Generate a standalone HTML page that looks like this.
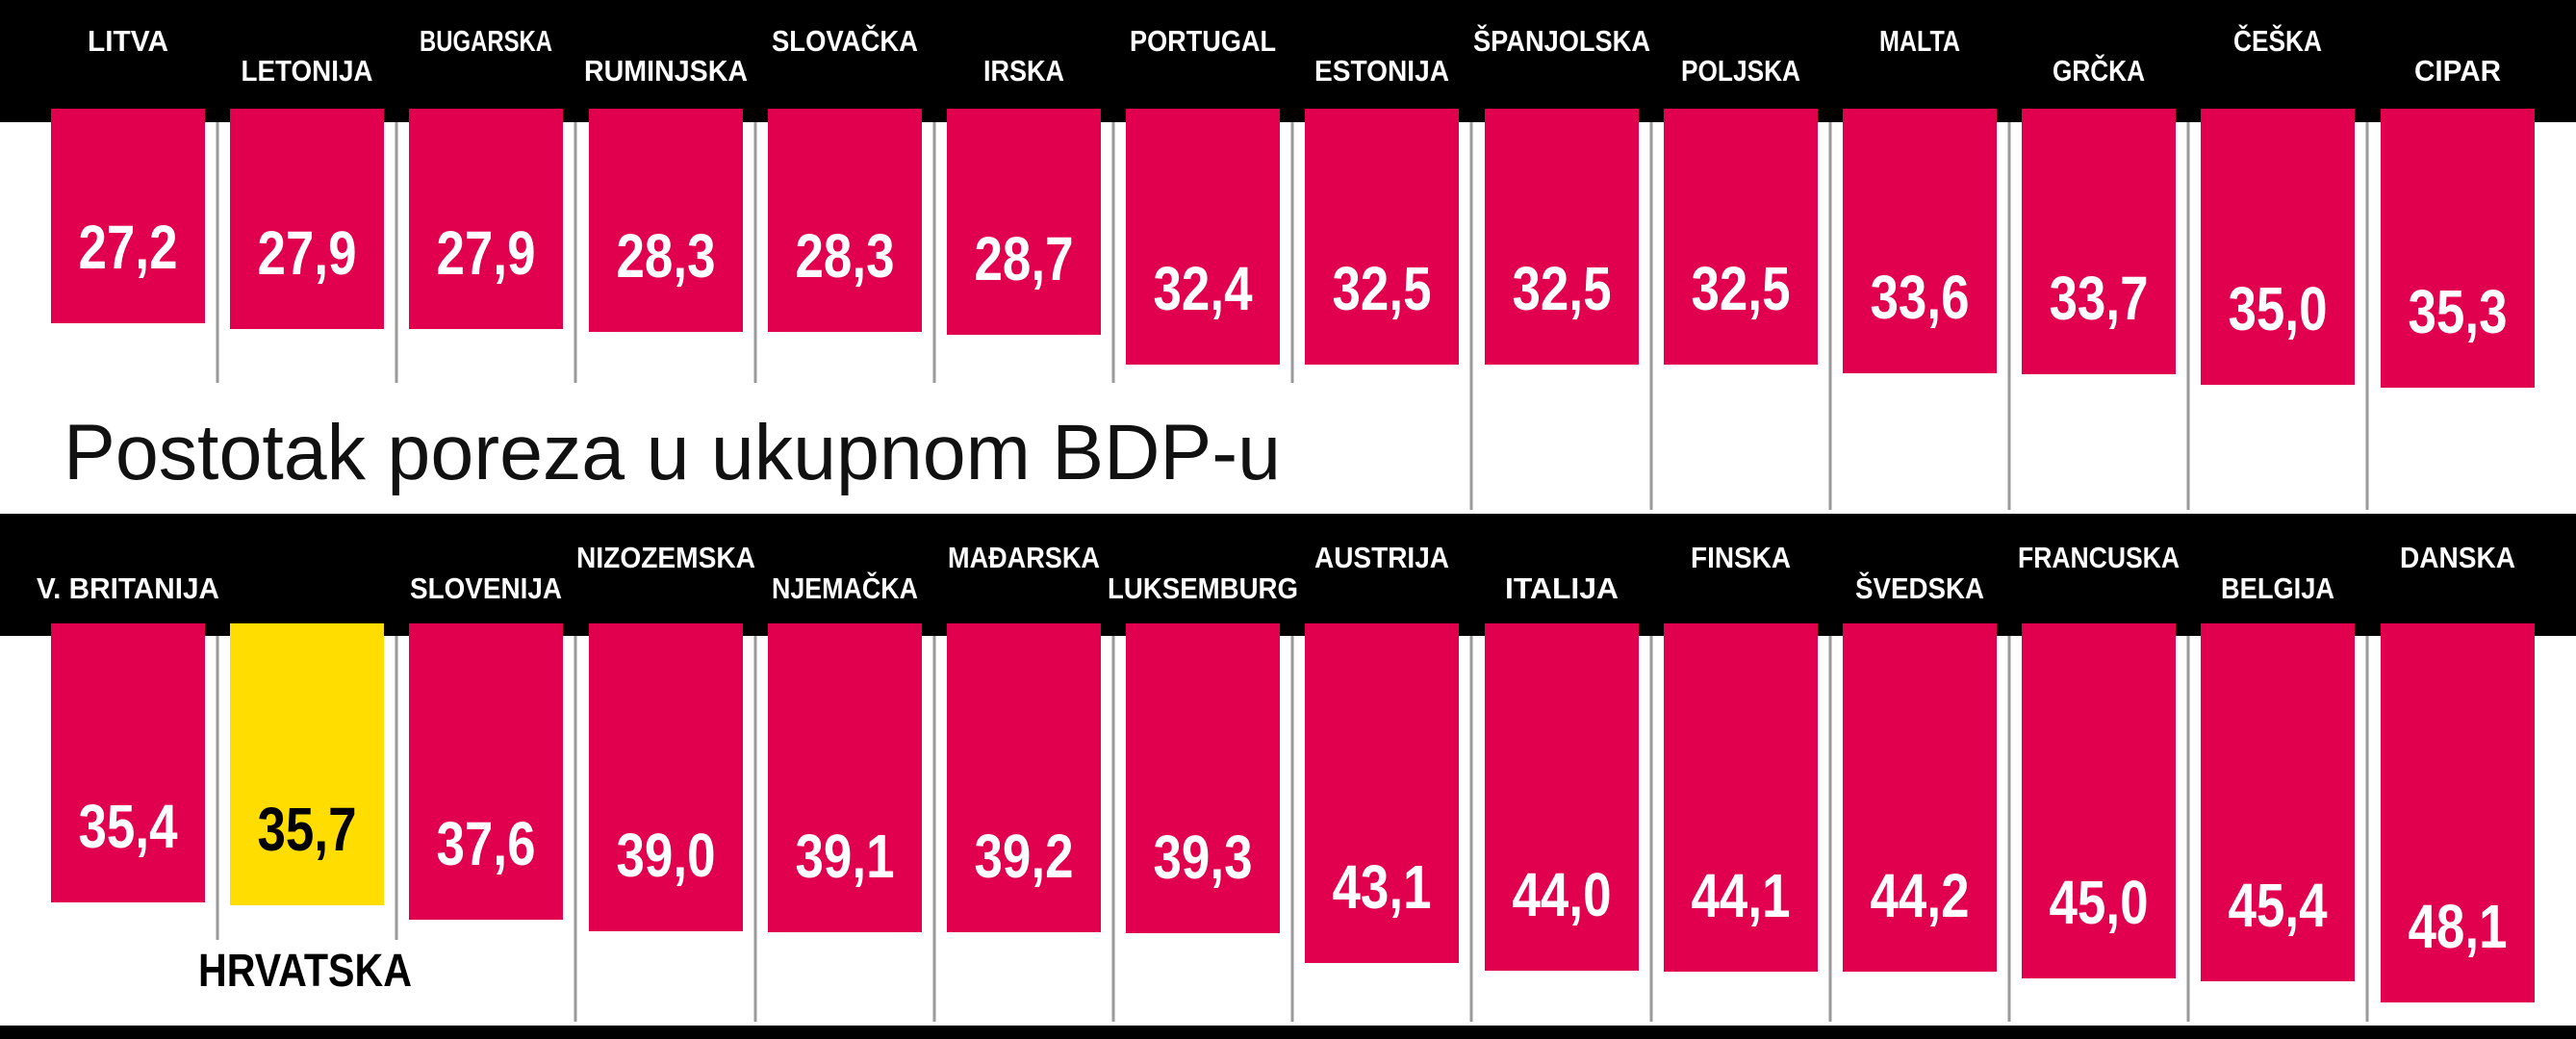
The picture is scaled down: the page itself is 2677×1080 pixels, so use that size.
<!DOCTYPE html>
<html><head><meta charset="utf-8"><style>
html,body{margin:0;padding:0;background:#fff}
svg{display:block}
.l{font-family:"Liberation Sans",sans-serif;font-weight:bold;font-size:31px;fill:#fff;text-anchor:middle}
.n{font-family:"Liberation Sans",sans-serif;font-weight:bold;font-size:64px;fill:#fff;text-anchor:middle}
.s{stroke:#9a9a9a;stroke-width:3}
</style></head><body>
<svg width="2677" height="1080" viewBox="0 0 2677 1080" xmlns="http://www.w3.org/2000/svg">
<rect width="2677" height="1080" fill="#fff"/>
<rect x="0" y="0" width="2677" height="127" fill="#000"/>
<rect x="0" y="534" width="2677" height="127" fill="#000"/>
<rect x="0" y="1066" width="2677" height="14" fill="#000"/>
<!-- separators top -->
<g class="s">
<line x1="226" y1="127" x2="226" y2="398"/><line x1="412" y1="127" x2="412" y2="398"/><line x1="598" y1="127" x2="598" y2="398"/><line x1="785" y1="127" x2="785" y2="398"/><line x1="971" y1="127" x2="971" y2="398"/><line x1="1157" y1="127" x2="1157" y2="398"/><line x1="1343" y1="127" x2="1343" y2="398"/>
<line x1="1529" y1="127" x2="1529" y2="530"/><line x1="1716" y1="127" x2="1716" y2="530"/><line x1="1902" y1="127" x2="1902" y2="530"/><line x1="2088" y1="127" x2="2088" y2="530"/><line x1="2274" y1="127" x2="2274" y2="530"/><line x1="2460" y1="127" x2="2460" y2="530"/>
<line x1="226" y1="661" x2="226" y2="977"/><line x1="412" y1="661" x2="412" y2="977"/><line x1="598" y1="661" x2="598" y2="1062"/><line x1="785" y1="661" x2="785" y2="1062"/><line x1="971" y1="661" x2="971" y2="1062"/><line x1="1157" y1="661" x2="1157" y2="1062"/><line x1="1343" y1="661" x2="1343" y2="1062"/>
<line x1="1529" y1="661" x2="1529" y2="1062"/><line x1="1716" y1="661" x2="1716" y2="1062"/><line x1="1902" y1="661" x2="1902" y2="1062"/><line x1="2088" y1="661" x2="2088" y2="1062"/><line x1="2274" y1="661" x2="2274" y2="1062"/><line x1="2460" y1="661" x2="2460" y2="1062"/>
</g>
<!-- top bars -->
<g fill="#E0004D">
<rect x="53" y="113" width="160" height="223"/>
<rect x="239" y="113" width="160" height="229"/>
<rect x="425" y="113" width="160" height="229"/>
<rect x="612" y="113" width="160" height="232"/>
<rect x="798" y="113" width="160" height="232"/>
<rect x="984" y="113" width="160" height="235"/>
<rect x="1170" y="113" width="160" height="266"/>
<rect x="1356" y="113" width="160" height="266"/>
<rect x="1543" y="113" width="160" height="266"/>
<rect x="1729" y="113" width="160" height="266"/>
<rect x="1915" y="113" width="160" height="275"/>
<rect x="2101" y="113" width="160" height="276"/>
<rect x="2287" y="113" width="160" height="287"/>
<rect x="2474" y="113" width="160" height="290"/>
<rect x="53" y="648" width="160" height="290"/>
<rect x="425" y="648" width="160" height="308"/>
<rect x="612" y="648" width="160" height="320"/>
<rect x="798" y="648" width="160" height="321"/>
<rect x="984" y="648" width="160" height="321"/>
<rect x="1170" y="648" width="160" height="322"/>
<rect x="1356" y="648" width="160" height="353"/>
<rect x="1543" y="648" width="160" height="361"/>
<rect x="1729" y="648" width="160" height="362"/>
<rect x="1915" y="648" width="160" height="362"/>
<rect x="2101" y="648" width="160" height="369"/>
<rect x="2287" y="648" width="160" height="372"/>
<rect x="2474" y="648" width="160" height="394"/>
</g>
<rect x="239" y="648" width="160" height="293" fill="#FFDD00"/>
<!-- top labels -->
<text class="l" x="133" y="53" textLength="84" lengthAdjust="spacingAndGlyphs">LITVA</text>
<text class="l" x="319" y="84" textLength="137" lengthAdjust="spacingAndGlyphs">LETONIJA</text>
<text class="l" x="505" y="53" textLength="138" lengthAdjust="spacingAndGlyphs">BUGARSKA</text>
<text class="l" x="692" y="84" textLength="170" lengthAdjust="spacingAndGlyphs">RUMINJSKA</text>
<text class="l" x="878" y="53" textLength="152" lengthAdjust="spacingAndGlyphs">SLOVAČKA</text>
<text class="l" x="1064" y="84" textLength="84" lengthAdjust="spacingAndGlyphs">IRSKA</text>
<text class="l" x="1250" y="53" textLength="152" lengthAdjust="spacingAndGlyphs">PORTUGAL</text>
<text class="l" x="1436" y="84" textLength="140" lengthAdjust="spacingAndGlyphs">ESTONIJA</text>
<text class="l" x="1623" y="53" textLength="184" lengthAdjust="spacingAndGlyphs">ŠPANJOLSKA</text>
<text class="l" x="1809" y="84" textLength="124" lengthAdjust="spacingAndGlyphs">POLJSKA</text>
<text class="l" x="1995" y="53" textLength="84" lengthAdjust="spacingAndGlyphs">MALTA</text>
<text class="l" x="2181" y="84" textLength="96" lengthAdjust="spacingAndGlyphs">GRČKA</text>
<text class="l" x="2367" y="53" textLength="92" lengthAdjust="spacingAndGlyphs">ČEŠKA</text>
<text class="l" x="2554" y="84" textLength="90" lengthAdjust="spacingAndGlyphs">CIPAR</text>
<!-- bottom labels -->
<text class="l" x="133" y="622" textLength="190" lengthAdjust="spacingAndGlyphs">V. BRITANIJA</text>
<text class="l" x="505" y="622" textLength="158" lengthAdjust="spacingAndGlyphs">SLOVENIJA</text>
<text class="l" x="692" y="590" textLength="186" lengthAdjust="spacingAndGlyphs">NIZOZEMSKA</text>
<text class="l" x="878" y="622" textLength="152" lengthAdjust="spacingAndGlyphs">NJEMAČKA</text>
<text class="l" x="1064" y="590" textLength="158" lengthAdjust="spacingAndGlyphs">MAĐARSKA</text>
<text class="l" x="1250" y="622" textLength="198" lengthAdjust="spacingAndGlyphs">LUKSEMBURG</text>
<text class="l" x="1436" y="590" textLength="140" lengthAdjust="spacingAndGlyphs">AUSTRIJA</text>
<text class="l" x="1623" y="622" textLength="118" lengthAdjust="spacingAndGlyphs">ITALIJA</text>
<text class="l" x="1809" y="590" textLength="104" lengthAdjust="spacingAndGlyphs">FINSKA</text>
<text class="l" x="1995" y="622" textLength="134" lengthAdjust="spacingAndGlyphs">ŠVEDSKA</text>
<text class="l" x="2181" y="590" textLength="168" lengthAdjust="spacingAndGlyphs">FRANCUSKA</text>
<text class="l" x="2367" y="622" textLength="118" lengthAdjust="spacingAndGlyphs">BELGIJA</text>
<text class="l" x="2554" y="590" textLength="120" lengthAdjust="spacingAndGlyphs">DANSKA</text>
<!-- top numbers -->
<text class="n" x="133" y="279" textLength="103" lengthAdjust="spacingAndGlyphs">27,2</text>
<text class="n" x="319" y="285" textLength="103" lengthAdjust="spacingAndGlyphs">27,9</text>
<text class="n" x="505" y="285" textLength="103" lengthAdjust="spacingAndGlyphs">27,9</text>
<text class="n" x="692" y="288" textLength="103" lengthAdjust="spacingAndGlyphs">28,3</text>
<text class="n" x="878" y="288" textLength="103" lengthAdjust="spacingAndGlyphs">28,3</text>
<text class="n" x="1064" y="291" textLength="103" lengthAdjust="spacingAndGlyphs">28,7</text>
<text class="n" x="1250" y="322" textLength="103" lengthAdjust="spacingAndGlyphs">32,4</text>
<text class="n" x="1436" y="322" textLength="103" lengthAdjust="spacingAndGlyphs">32,5</text>
<text class="n" x="1623" y="322" textLength="103" lengthAdjust="spacingAndGlyphs">32,5</text>
<text class="n" x="1809" y="322" textLength="103" lengthAdjust="spacingAndGlyphs">32,5</text>
<text class="n" x="1995" y="331" textLength="103" lengthAdjust="spacingAndGlyphs">33,6</text>
<text class="n" x="2181" y="332" textLength="103" lengthAdjust="spacingAndGlyphs">33,7</text>
<text class="n" x="2367" y="343" textLength="103" lengthAdjust="spacingAndGlyphs">35,0</text>
<text class="n" x="2554" y="346" textLength="103" lengthAdjust="spacingAndGlyphs">35,3</text>
<!-- bottom numbers -->
<text class="n" x="133" y="881" textLength="103" lengthAdjust="spacingAndGlyphs">35,4</text>
<text class="n" x="319" y="884" textLength="103" lengthAdjust="spacingAndGlyphs" style="fill:#000">35,7</text>
<text class="n" x="505" y="899" textLength="103" lengthAdjust="spacingAndGlyphs">37,6</text>
<text class="n" x="692" y="911" textLength="103" lengthAdjust="spacingAndGlyphs">39,0</text>
<text class="n" x="878" y="912" textLength="103" lengthAdjust="spacingAndGlyphs">39,1</text>
<text class="n" x="1064" y="912" textLength="103" lengthAdjust="spacingAndGlyphs">39,2</text>
<text class="n" x="1250" y="913" textLength="103" lengthAdjust="spacingAndGlyphs">39,3</text>
<text class="n" x="1436" y="944" textLength="103" lengthAdjust="spacingAndGlyphs">43,1</text>
<text class="n" x="1623" y="952" textLength="103" lengthAdjust="spacingAndGlyphs">44,0</text>
<text class="n" x="1809" y="953" textLength="103" lengthAdjust="spacingAndGlyphs">44,1</text>
<text class="n" x="1995" y="953" textLength="103" lengthAdjust="spacingAndGlyphs">44,2</text>
<text class="n" x="2181" y="960" textLength="103" lengthAdjust="spacingAndGlyphs">45,0</text>
<text class="n" x="2367" y="963" textLength="103" lengthAdjust="spacingAndGlyphs">45,4</text>
<text class="n" x="2554" y="985" textLength="103" lengthAdjust="spacingAndGlyphs">48,1</text>
<text class="l" x="317" y="1025" style="fill:#000;font-size:48px" textLength="222" lengthAdjust="spacingAndGlyphs">HRVATSKA</text>
<text x="66" y="498" font-family="Liberation Sans, sans-serif" font-size="82" fill="#111" textLength="1265" lengthAdjust="spacingAndGlyphs">Postotak poreza u ukupnom BDP-u</text>
</svg>
</body></html>
